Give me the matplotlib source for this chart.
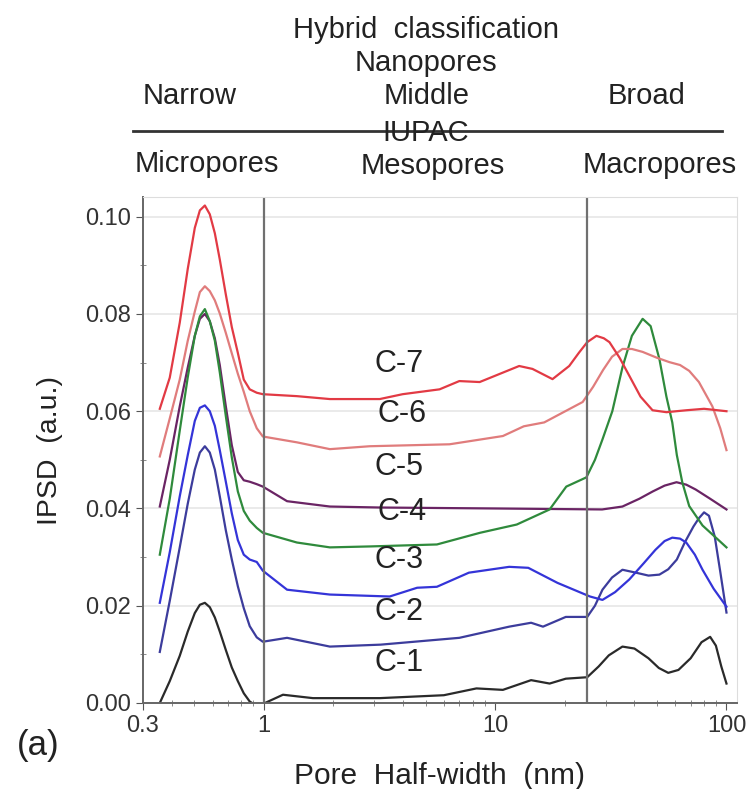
import matplotlib.pyplot as plt
from matplotlib.ticker import MultipleLocator, FixedLocator, NullFormatter

plt.rcParams['font.family'] = ['Liberation Sans', 'DejaVu Sans']

# pore half-width (nm) in the micropore peak region, shared by all curves
micro_x = [0.355, 0.392, 0.433, 0.469, 0.503, 0.529, 0.556, 0.584, 0.614, 0.645, 0.685,
           0.727, 0.772, 0.819, 0.869, 0.932, 0.99]

c1_micro = [0.0, 0.0045, 0.0097, 0.0147, 0.0185, 0.0202, 0.0206, 0.0197, 0.0176, 0.0147,
            0.0109, 0.0073, 0.0045, 0.002, 0.0003, -0.0006, -0.0002]
c2_micro = [0.0105, 0.021, 0.032, 0.041, 0.048, 0.0515, 0.0528, 0.0515, 0.048, 0.0425,
            0.0355, 0.0295, 0.024, 0.0195, 0.0158, 0.0135, 0.0126]
c3_micro = [0.0206, 0.031, 0.0425, 0.051, 0.058, 0.0607, 0.0612, 0.060, 0.057, 0.052,
            0.0455, 0.039, 0.0335, 0.0305, 0.0295, 0.029, 0.0272]
c4_micro = [0.0404, 0.050, 0.061, 0.069, 0.0755, 0.079, 0.080, 0.0785, 0.075, 0.0695,
            0.061, 0.053, 0.0475, 0.0458, 0.0455, 0.045, 0.0445]
c5_micro = [0.0305, 0.042, 0.056, 0.067, 0.0755, 0.0795, 0.081, 0.0785, 0.0745, 0.068,
            0.059, 0.0505, 0.0435, 0.0395, 0.0375, 0.036, 0.035]
c6_micro = [0.0507, 0.0585, 0.0665, 0.0745, 0.0805, 0.0845, 0.0857, 0.0847, 0.0828, 0.0801,
            0.0761, 0.0719, 0.0677, 0.064, 0.060, 0.0565, 0.0548]
c7_micro = [0.0605, 0.0669, 0.0782, 0.0893, 0.0977, 0.1013, 0.1023, 0.1005, 0.0966, 0.0912,
            0.084, 0.0773, 0.072, 0.0665, 0.0645, 0.0638, 0.0635]

# meso / macropore region, per curve
c1_rx = [1.21, 1.63, 3.17, 6.0, 8.3, 10.8, 14.3, 17.2, 20.2, 25.0, 28.0, 31.0, 35.5, 40.0,
         46.0, 51.0, 56.0, 62.0, 70.0, 78.0, 85.0, 90.0, 95.0, 100.0]
c1_ry = [0.0017, 0.001, 0.001, 0.0016, 0.003, 0.0027, 0.0047, 0.004, 0.005, 0.0053, 0.0075,
         0.0098, 0.0116, 0.0112, 0.0092, 0.0072, 0.0062, 0.0068, 0.0092, 0.0125, 0.0136,
         0.0118, 0.0075, 0.004]

c2_rx = [1.26, 1.93, 3.2, 7.0, 11.5, 14.3, 16.1, 20.2, 25.0, 27.0, 29.1, 32.0, 35.5, 40.6,
         46.0, 51.3, 56.0, 61.0, 66.0, 72.0, 76.0, 80.0, 84.0, 89.0, 94.0, 100.0]
c2_ry = [0.0134, 0.0116, 0.012, 0.0134, 0.0157, 0.0165, 0.0157, 0.0177, 0.0177, 0.020,
         0.0233, 0.0258, 0.0274, 0.0268, 0.0262, 0.0264, 0.0275, 0.0295, 0.033, 0.0363,
         0.038, 0.0392, 0.0385, 0.0342, 0.027, 0.0186]

c3_rx = [1.26, 1.93, 3.5, 4.6, 5.6, 7.7, 11.5, 13.9, 18.6, 25.7, 29.1, 33.0, 38.0, 44.0,
         49.3, 54.0, 58.3, 63.0, 67.0, 73.0, 78.8, 88.0, 100.0]
c3_ry = [0.0233, 0.0223, 0.0219, 0.0237, 0.0239, 0.0268, 0.028, 0.0278, 0.0247, 0.0219,
         0.0212, 0.0228, 0.0254, 0.0288, 0.0315, 0.0333, 0.034, 0.0338, 0.033, 0.0305,
         0.0274, 0.0235, 0.0198]

c4_rx = [1.26, 1.93, 3.17, 10.0, 29.0, 35.5, 42.0, 48.0, 54.0, 60.8, 67.0, 73.6, 85.0, 100.0]
c4_ry = [0.0415, 0.0404, 0.0402, 0.040, 0.0398, 0.0404, 0.042, 0.0435, 0.0447, 0.0454,
         0.0449, 0.0439, 0.042, 0.0398]

c5_rx = [1.39, 1.93, 2.9, 5.6, 8.6, 12.4, 17.2, 20.3, 24.8, 27.0, 29.1, 32.1, 35.5, 39.0,
         43.4, 47.0, 51.3, 55.0, 58.3, 61.0, 64.4, 69.0, 78.8, 90.0, 100.0]
c5_ry = [0.033, 0.032, 0.0322, 0.0326, 0.035, 0.0367, 0.0398, 0.0445, 0.0464, 0.050,
         0.0542, 0.060, 0.069, 0.0755, 0.079, 0.0775, 0.0707, 0.063, 0.0577, 0.051, 0.0454,
         0.0405, 0.0365, 0.034, 0.032]

c6_rx = [1.39, 1.93, 2.87, 6.35, 10.8, 13.3, 16.3, 23.9, 26.5, 29.3, 32.0, 35.5, 39.0, 43.4,
         50.0, 56.6, 63.0, 69.0, 76.0, 86.9, 94.0, 100.0]
c6_ry = [0.0536, 0.0522, 0.0528, 0.0532, 0.0549, 0.0569, 0.0577, 0.0619, 0.065, 0.0685,
         0.0712, 0.0728, 0.0728, 0.0722, 0.071, 0.0701, 0.0695, 0.0683, 0.066, 0.061, 0.0565,
         0.052]

c7_rx = [1.39, 1.93, 3.17, 3.98, 5.75, 7.0, 8.57, 12.7, 14.5, 17.7, 20.9, 23.0, 25.0, 27.4,
         29.5, 31.2, 34.5, 38.1, 42.5, 47.9, 55.0, 67.1, 80.0, 100.0]
c7_ry = [0.0631, 0.0625, 0.0625, 0.0635, 0.0645, 0.0662, 0.066, 0.0693, 0.0687, 0.0666,
         0.0693, 0.072, 0.0742, 0.0755, 0.075, 0.0742, 0.071, 0.0672, 0.063, 0.0602, 0.0598,
         0.0602, 0.0605, 0.060]

colors = ['#2a2a2a', '#3c3c9c', '#3434d8', '#6a2464', '#2f8a3c', '#e07c7c', '#e23a44']
micro_ys = [c1_micro, c2_micro, c3_micro, c4_micro, c5_micro, c6_micro, c7_micro]
rest_xs = [c1_rx, c2_rx, c3_rx, c4_rx, c5_rx, c6_rx, c7_rx]
rest_ys = [c1_ry, c2_ry, c3_ry, c4_ry, c5_ry, c6_ry, c7_ry]

labels = ['C-1', 'C-2', 'C-3', 'C-4', 'C-5', 'C-6', 'C-7']
label_x = [3.85, 3.85, 3.85, 3.95, 3.85, 3.95, 3.85]
label_y = [0.0082, 0.0188, 0.0295, 0.0392, 0.0485, 0.0594, 0.0697]

boundaries = [1, 25]

fig = plt.figure(figsize=(7.52, 7.89), dpi=100)
ax = fig.add_axes([0.190, 0.109, 0.790, 0.641])

for my, rx, ry, col in zip(micro_ys, rest_xs, rest_ys, colors):
    ax.plot(micro_x + rx, my + ry, color=col, lw=1.6)

for b in boundaries:
    ax.axvline(b, color='#707070', lw=1.6)

for lab, lx, ly in zip(labels, label_x, label_y):
    ax.text(lx, ly, lab, fontsize=22, ha='center', va='center', color='#222222')

ax.set_xscale('log')
ax.set_xlim(0.3, 111)
ax.set_ylim(0, 0.104)
ax.xaxis.set_major_locator(FixedLocator([0.3, 1, 10, 100]))
ax.set_xticklabels(['0.3', '1', '10', '100'])
ax.xaxis.set_minor_formatter(NullFormatter())
ax.yaxis.set_major_locator(MultipleLocator(0.02))
ax.yaxis.set_minor_locator(MultipleLocator(0.01))
ax.set_yticklabels(['%.2f' % v for v in ax.get_yticks()])
ax.tick_params(axis='both', which='major', labelsize=17, colors='#555555',
               labelcolor='#333333', direction='out', length=5)
ax.tick_params(axis='both', which='minor', colors='#777777', direction='inout', length=5)
ax.grid(True, axis='y', color='#e6e6e6', lw=1.2)
ax.set_axisbelow(True)
for s in ['left', 'bottom']:
    ax.spines[s].set_color('#666666')
    ax.spines[s].set_linewidth(1.4)
for s in ['top', 'right']:
    ax.spines[s].set_color('#dddddd')

ax.set_xlabel('Pore  Half-width  (nm)', fontsize=21.5, color='#222222', labelpad=18)
ax.set_ylabel('IPSD  (a.u.)', fontsize=20.5, color='#222222', labelpad=16)

# classification header above the plot
def ftext(x, y, s, size=21):
    fig.text(x / 752, 1 - y / 789, s, fontsize=size, ha='center', va='center', color='#222222')

ftext(426, 30, 'Hybrid  classification')
ftext(426, 63, 'Nanopores')
ftext(190, 96, 'Narrow')
ftext(427, 96, 'Middle')
ftext(647, 96, 'Broad')
ftext(426, 133, 'IUPAC')
ftext(207, 164, 'Micropores')
ftext(433, 166, 'Mesopores')
ftext(660, 165, 'Macropores')
fig.add_artist(plt.Line2D([133 / 752, 722 / 752], [1 - 131 / 789, 1 - 131 / 789],
                          color='#333333', lw=2))
ftext(38, 745, '(a)', size=25)

fig.savefig('out.png', dpi=100)
